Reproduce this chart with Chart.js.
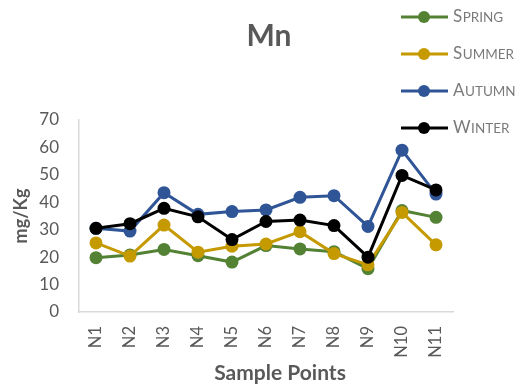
<!DOCTYPE html>
<html>
<head>
<meta charset="utf-8">
<script src="https://cdn.jsdelivr.net/npm/chart.js@4"></script>
<style>
  html, body { margin: 0; padding: 0; background: #fff; }
  #wrap { width: 520px; height: 386px; }
</style>
</head>
<body>
<div id="wrap"><canvas id="mnChart" width="520" height="386"></canvas></div>
<script>
const FONT = "Lato, 'Open Sans', sans-serif";

// Mn concentration per sampling point, one array per season
const samplePoints = ["N1", "N2", "N3", "N4", "N5", "N6", "N7", "N8", "N9", "N10", "N11"];
const spring = [19.8, 20.8, 22.8, 20.5, 18.2, 24.2, 23.0, 22.0, 15.8, 37.0, 34.5];
const summer = [25.2, 20.4, 31.7, 21.8, 24.0, 24.8, 29.3, 21.3, 17.2, 36.3, 24.5];
const autumn = [30.5, 29.5, 43.5, 35.6, 36.6, 37.2, 41.8, 42.4, 31.2, 59.0, 43.0];
const winter = [30.5, 32.2, 37.8, 34.7, 26.4, 33.0, 33.5, 31.5, 20.0, 49.8, 44.5];
const seasonNames = ["Spring", "Summer", "Autumn", "Winter"];
const seasonColors = ["#548235", "#c49a00", "#2f5597", "#000000"];

function series(i, values) {
  return {
    label: seasonNames[i],
    data: values,
    borderColor: seasonColors[i],
    backgroundColor: seasonColors[i],
    borderWidth: 3,
    tension: 0,
    pointRadius: 6.5,
    pointHoverRadius: 6.5,
    pointBorderWidth: 0,
    pointBackgroundColor: seasonColors[i],
    order: 4 - i   // later seasons sit on top
  };
}

// title, x-axis caption and stacked legend with small-caps labels
const decorations = {
  id: "decorations",
  afterDraw(chart) {
    const ctx = chart.ctx;
    ctx.save();
    ctx.fillStyle = "#595959";
    ctx.font = "bold 30px " + FONT;
    ctx.textAlign = "center";
    ctx.textBaseline = "alphabetic";
    ctx.fillText("Mn", 269, 46);

    ctx.font = "bold 21px " + FONT;
    ctx.fillText("Sample Points", 280, 380);

    ctx.textAlign = "left";
    chart.data.datasets.forEach((ds, i) => {
      const y = 17 + i * 37;
      ctx.strokeStyle = ds.borderColor;
      ctx.lineWidth = 3;
      ctx.beginPath();
      ctx.moveTo(401, y);
      ctx.lineTo(448, y);
      ctx.stroke();
      ctx.fillStyle = ds.borderColor;
      ctx.beginPath();
      ctx.arc(424, y, 6, 0, Math.PI * 2);
      ctx.fill();

      const name = ds.label.toUpperCase();
      ctx.fillStyle = "#7a7a7a";
      ctx.font = "17px " + FONT;
      ctx.fillText(name[0], 453, y + 5);
      const w = ctx.measureText(name[0]).width;
      ctx.font = "13.5px " + FONT;
      ctx.fillText(name.slice(1), 453 + w + 0.5, y + 5);
    });
    ctx.restore();
  }
};

new Chart(document.getElementById("mnChart"), {
  type: "line",
  data: {
    labels: samplePoints,
    datasets: [series(0, spring), series(1, summer), series(2, autumn), series(3, winter)]
  },
  options: {
    responsive: false,
    animation: false,
    layout: { padding: { top: 120, right: 67, left: 0, bottom: 0 } },
    plugins: {
      legend: { display: false },
      title: { display: false },
      tooltip: { enabled: false }
    },
    scales: {
      x: {
        offset: true,
        afterFit(scale) { scale.height = 74; },
        grid: { display: false, drawTicks: false },
        border: { display: true, color: "#d9d9d9", width: 1.5 },
        ticks: {
          minRotation: 90,
          maxRotation: 90,
          padding: 14,
          color: "#595959",
          font: { family: FONT, size: 16.5 }
        }
      },
      y: {
        min: 0,
        max: 70,
        afterFit(scale) { scale.width = 79; },
        grid: { display: false, drawTicks: false },
        border: { display: true, color: "#d9d9d9", width: 1.5 },
        ticks: {
          stepSize: 10,
          padding: 20,
          color: "#595959",
          font: { family: FONT, size: 17 }
        },
        title: {
          display: true,
          text: "mg/Kg",
          color: "#595959",
          padding: { top: 10, bottom: 0 },
          font: { family: FONT, size: 18, weight: "bold" }
        }
      }
    }
  },
  plugins: [decorations]
});
</script>
</body>
</html>
